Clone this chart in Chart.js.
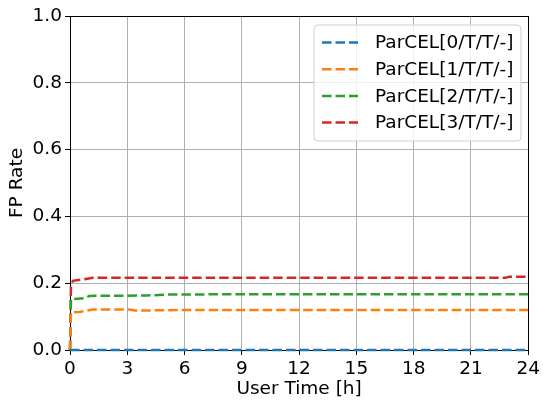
<!DOCTYPE html>
<html>
<head>
<meta charset="utf-8">
<script src="https://cdn.jsdelivr.net/npm/chart.js@4/dist/chart.umd.min.js"></script>
<style>
  body { margin: 0; background: #fff; }
</style>
</head>
<body>
<canvas id="fpChart" width="543" height="403"></canvas>
<script>
'use strict'

// series labels
const labels = ['ParCEL[0/T/T/-]', 'ParCEL[1/T/T/-]', 'ParCEL[2/T/T/-]', 'ParCEL[3/T/T/-]'];

// values (x = user time in hours, y = FP rate)
const time0 = [0, 24];
const rate0 = [0, 0];

const time1 = [0, 0.05, 0.5, 1.2, 3.1, 3.4, 6.4, 9, 24];
const rate1 = [0, 0.112, 0.114, 0.121, 0.121, 0.118, 0.120, 0.120, 0.120];

const time2 = [0, 0.05, 0.8, 1.0, 4.0, 5.0, 9, 24];
const rate2 = [0, 0.152, 0.155, 0.162, 0.163, 0.166, 0.167, 0.167];

const time3 = [0, 0.05, 0.15, 1.2, 22.8, 23.0, 24];
const rate3 = [0, 0.19, 0.207, 0.216, 0.216, 0.219, 0.219];

const xTicks = [0, 3, 6, 9, 12, 15, 18, 21, 24];
const yTicks = [0, 0.2, 0.4, 0.6, 0.8, 1.0];

const colors = ['#1f77b4', '#ff7f0e', '#2ca02c', '#d62728'];

const FONT = 'DejaVu Sans';
const FONT_SIZE = 18.5;

// helper to zip x and y arrays into points
const toPoints = (xs, ys) => xs.map((x, i) => ({ x: x, y: ys[i] }));

const seriesData = [
    toPoints(time0, rate0),
    toPoints(time1, rate1),
    toPoints(time2, rate2),
    toPoints(time3, rate3)
];

const datasets = seriesData.map((points, i) => ({
    label: labels[i],
    data: points,
    borderColor: colors[i],
    backgroundColor: colors[i],
    borderWidth: 2.5,
    borderDash: [9.5, 4],
    pointRadius: 0,
    tension: 0,
    fill: false,
    clip: false
}));

// top and right spines, plus a matplotlib-like legend inside the plot area
const boxLegend = {
    id: 'boxLegend',
    afterDraw(chart) {
        const ctx = chart.ctx;
        const area = chart.chartArea;

        ctx.save();
        ctx.strokeStyle = '#000';
        ctx.lineWidth = 1;
        ctx.beginPath();
        ctx.moveTo(area.left, Math.round(area.top) + 0.5);
        ctx.lineTo(area.right, Math.round(area.top) + 0.5);
        ctx.moveTo(Math.round(area.right) + 0.5, area.top);
        ctx.lineTo(Math.round(area.right) + 0.5, area.bottom);
        ctx.stroke();

        const x0 = 314, y0 = 25, w = 207, h = 116, r = 4;
        ctx.beginPath();
        ctx.moveTo(x0 + r, y0);
        ctx.arcTo(x0 + w, y0, x0 + w, y0 + h, r);
        ctx.arcTo(x0 + w, y0 + h, x0, y0 + h, r);
        ctx.arcTo(x0, y0 + h, x0, y0, r);
        ctx.arcTo(x0, y0, x0 + w, y0, r);
        ctx.closePath();
        ctx.fillStyle = 'rgba(255,255,255,0.8)';
        ctx.fill();
        ctx.strokeStyle = '#d0d0d0';
        ctx.lineWidth = 1;
        ctx.stroke();

        ctx.font = FONT_SIZE + 'px "' + FONT + '"';
        ctx.textBaseline = 'middle';
        ctx.fillStyle = '#000';
        chart.data.datasets.forEach((ds, i) => {
            const yRow = 42.5 + i * 26.7;
            ctx.beginPath();
            ctx.setLineDash(ds.borderDash);
            ctx.lineWidth = ds.borderWidth;
            ctx.strokeStyle = ds.borderColor;
            ctx.moveTo(322, yRow);
            ctx.lineTo(358, yRow);
            ctx.stroke();
            ctx.setLineDash([]);
            ctx.fillText(ds.label, 375, yRow + 1);
        });
        ctx.restore();
    }
};

new Chart(document.getElementById('fpChart'), {
    type: 'line',
    data: { datasets: datasets },
    options: {
        responsive: false,
        animation: false,
        layout: { padding: { top: 16, right: 12, left: 0, bottom: 0 } },
        plugins: {
            legend: { display: false },
            tooltip: { enabled: false }
        },
        scales: {
            x: {
                type: 'linear',
                min: 0,
                max: 24,
                afterFit: (scale) => { scale.height = 53; },
                afterBuildTicks: (scale) => { scale.ticks = xTicks.map(v => ({ value: v })); },
                ticks: {
                    color: '#000',
                    padding: 3,
                    maxRotation: 0,
                    font: { family: FONT, size: FONT_SIZE }
                },
                grid: { color: '#b0b0b0', lineWidth: 1, tickColor: '#000', tickLength: 5 },
                border: { color: '#000', width: 1 },
                title: {
                    display: true,
                    text: 'User Time [h]',
                    color: '#000',
                    padding: { top: 3, bottom: 3 },
                    font: { family: FONT, size: FONT_SIZE }
                }
            },
            y: {
                min: 0,
                max: 1,
                afterFit: (scale) => { scale.width = 70; },
                afterBuildTicks: (scale) => { scale.ticks = yTicks.map(v => ({ value: v })); },
                ticks: {
                    color: '#000',
                    padding: 3,
                    font: { family: FONT, size: FONT_SIZE },
                    callback: (v) => Number(v).toFixed(1)
                },
                grid: { color: '#b0b0b0', lineWidth: 1, tickColor: '#000', tickLength: 5 },
                border: { color: '#000', width: 1 },
                title: {
                    display: true,
                    text: 'FP Rate',
                    color: '#000',
                    padding: { top: 6, bottom: 0 },
                    font: { family: FONT, size: FONT_SIZE }
                }
            }
        }
    },
    plugins: [boxLegend]
});
</script>
</body>
</html>
